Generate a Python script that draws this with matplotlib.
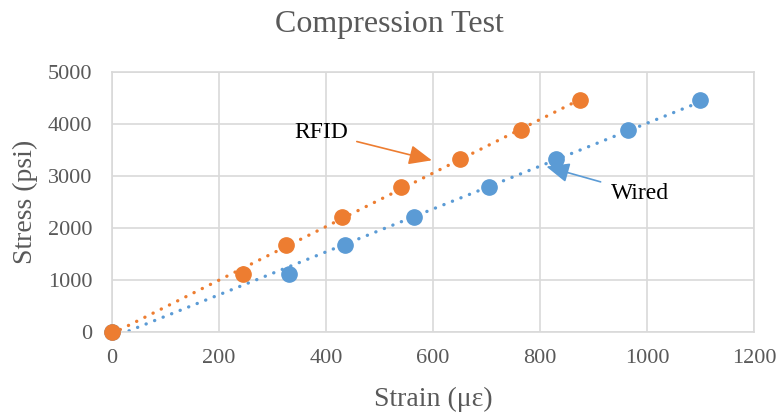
import matplotlib.pyplot as plt
import numpy as np

plt.rcParams['font.family'] = ['Liberation Serif', 'DejaVu Serif']

rfid_strain = [0, 245, 325, 430, 540, 650, 765, 875]
rfid_stress = [0, 1110, 1670, 2220, 2780, 3330, 3890, 4450]
wired_strain = [0, 330, 435, 565, 705, 830, 965, 1100]
wired_stress = [0, 1110, 1670, 2220, 2780, 3330, 3890, 4450]

ORANGE = '#ED7D31'
BLUE = '#5B9BD5'
GRAY = '#595959'

fig = plt.figure(figsize=(7.78, 4.13), dpi=100)
ax = fig.add_axes([0.144, 0.196, 0.825, 0.63])

# linear trendlines, drawn first so the markers sit on top
for xs, ys, c in [(wired_strain, wired_stress, BLUE), (rfid_strain, rfid_stress, ORANGE)]:
    k, b = np.polyfit(xs, ys, 1)
    xx = np.array([0, max(xs)])
    ax.plot(xx, k * xx + b, color=c, linestyle=(0, (0.05, 2.7)), linewidth=2.4,
            dash_capstyle='round', zorder=2)

ax.plot(wired_strain, wired_stress, 'o', color=BLUE, markersize=11, zorder=3, clip_on=False)
ax.plot(rfid_strain, rfid_stress, 'o', color=ORANGE, markersize=11, zorder=3, clip_on=False)

ax.annotate('RFID', xy=(598, 3300), xytext=(392, 3830), fontsize=17, color='black',
            ha='center', va='center',
            arrowprops=dict(arrowstyle='-|>,head_length=0.7,head_width=0.3',
                            color=ORANGE, lw=1.2,
                            mutation_scale=20, shrinkA=4, shrinkB=0))
ax.annotate('Wired', xy=(812, 3180), xytext=(988, 2670), fontsize=17, color='black',
            ha='center', va='center',
            arrowprops=dict(arrowstyle='-|>,head_length=0.7,head_width=0.3',
                            color=BLUE, lw=1.2,
                            mutation_scale=20, shrinkA=6, shrinkB=0))

ax.set_xlim(0, 1200)
ax.set_ylim(0, 5000)
ax.set_xticks(range(0, 1201, 200))
ax.set_yticks(range(0, 5001, 1000))
ax.grid(True, color='#D9D9D9', linewidth=1.2)
ax.set_axisbelow(True)
for s in ax.spines.values():
    s.set_color('#D9D9D9')
    s.set_linewidth(1.2)
ax.tick_params(length=0, labelsize=16, labelcolor=GRAY)
ax.tick_params(axis='y', pad=14)
ax.tick_params(axis='x', pad=12)

fig.suptitle('Compression Test', fontsize=23, color=GRAY, x=0.5, y=0.975, va='top')
ax.set_xlabel('Strain (\u03bc\u03b5)', fontsize=20, color=GRAY, labelpad=14)
ax.set_ylabel('Stress (psi)', fontsize=20, color=GRAY, labelpad=7)

fig.savefig('out.png', dpi=100)
